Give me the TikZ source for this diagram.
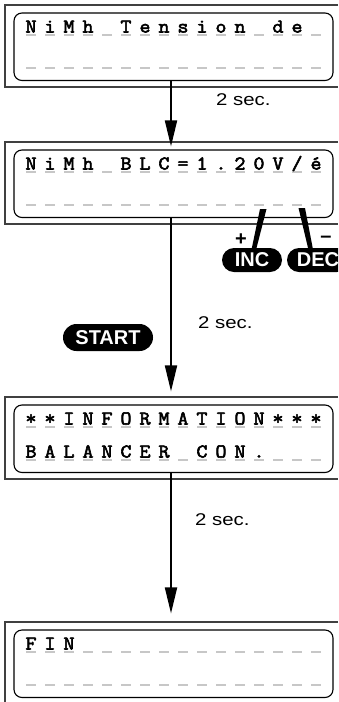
\documentclass[tikz,border=0pt]{standalone}
\usepackage{fontspec}
\usetikzlibrary{arrows.meta,shapes.misc}
\newfontfamily\secfont{Liberation Sans}[FakeStretch=1.2]
\newfontfamily\btnfont{Liberation Sans}
\newfontfamily\lcdfont{Latin Modern Mono}[FakeBold=3,FakeStretch=1.1]
\newcommand\lcdpanel[4]{%
  \draw[frame] (338,#2) -- (5,#2) -- (5,#2+82) -- (338,#2+82);
  \node[lcd] (#1) at (173.5,#2+41.75) {};
  \foreach \i in {1,...,16} {
    \draw[cell] (7+19*\i,#2+30) -- ++(10,0);
    \draw[cell] (7+19*\i,#2+63) -- ++(10,0);
  }
  \foreach \c [count=\i] in {#3} {
    \node[ch] (#1a\i) at (12+19*\i,#2+27.5) {\c};
  }
  \foreach \c [count=\i] in {#4} {
    \node[ch] (#1b\i) at (12+19*\i,#2+60.5) {\c};
  }
}
\begin{document}
\begin{tikzpicture}[x=1pt,y=-1pt,
  frame/.style={draw=black!75, line width=1.1pt},
  lcd/.style={draw=black, line width=1.1pt, rounded corners=8pt, minimum width=319pt, minimum height=67.5pt, inner sep=0pt},
  ch/.style={font=\fontsize{19.5}{19.5}\selectfont\lcdfont, anchor=base, inner sep=0pt},
  cell/.style={draw=black!22, line width=1.3pt},
  flow/.style={line width=1.8pt, -{Triangle[width=12pt,length=26pt]}},
  secl/.style={font=\fontsize{17}{17}\selectfont\secfont, anchor=west, inner sep=0pt},
  btn/.style={rounded rectangle, fill=black, text=white, inner sep=0pt, font=\fontsize{20}{20}\selectfont\btnfont\bfseries},
  sign/.style={inner sep=0pt, font=\fontsize{20}{20}\selectfont\btnfont\bfseries}
]
\path[use as bounding box, clip] (0,0) rectangle (338,702);
\fill[white] (0,0) rectangle (338,702);

\lcdpanel{d1}{5}{N,i,M,h,{},T,e,n,s,i,o,n,{},d,e}{{}}
\lcdpanel{d2}{142}{N,i,M,h,{},B,L,C,=,1,.,2,0,V,\slash,é}{{}}
\lcdpanel{d3}{397}{*,*,I,N,F,O,R,M,A,T,I,O,N,*,*,*}{B,A,L,A,N,C,E,R,{},C,O,N,.}
\lcdpanel{d4}{622}{F,I,N}{{}}

% flow arrows
\draw[flow, shorten >=3pt] ([xshift=-2.5pt]d1.south) -- ([xshift=-2.5pt]d2.north);
\draw[flow, shorten >=13pt] ([xshift=-2.5pt]d2.south) -- ([xshift=-2.5pt]d3.north);
\draw[flow, shorten >=16pt] ([xshift=-2.5pt]d3.south) -- ([xshift=-2.5pt]d4.north);

\node[secl] (s1) at (216,100) {2 sec.};
\node[secl] (s2) at (198,323) {2 sec.};
\node[secl] (s3) at (195,520) {2 sec.};

% buttons
\node[btn, minimum width=90pt, minimum height=27pt] (start) at (108,337.5) {START};
\node[btn, minimum width=60pt, minimum height=24pt] (inc) at (252,260) {INC};
\node[btn, minimum width=62pt, minimum height=24pt] (dec) at (318,260) {DEC};

\coordinate (incA) at (260,209);
\coordinate (incB) at (266.5,209);
\coordinate (incC) at (255.5,252);
\coordinate (incD) at (251,252);
\fill (incA) -- (incB) -- (incC) -- (incD) -- cycle;
\coordinate (decA) at (298.5,208);
\coordinate (decB) at (305,208);
\coordinate (decC) at (313.5,252);
\coordinate (decD) at (309,252);
\fill (decA) -- (decB) -- (decC) -- (decD) -- cycle;

\node[sign] (plus) at (241,240) {+};
\node[sign] (minus) at (326,239) {–};
\end{tikzpicture}
\end{document}
